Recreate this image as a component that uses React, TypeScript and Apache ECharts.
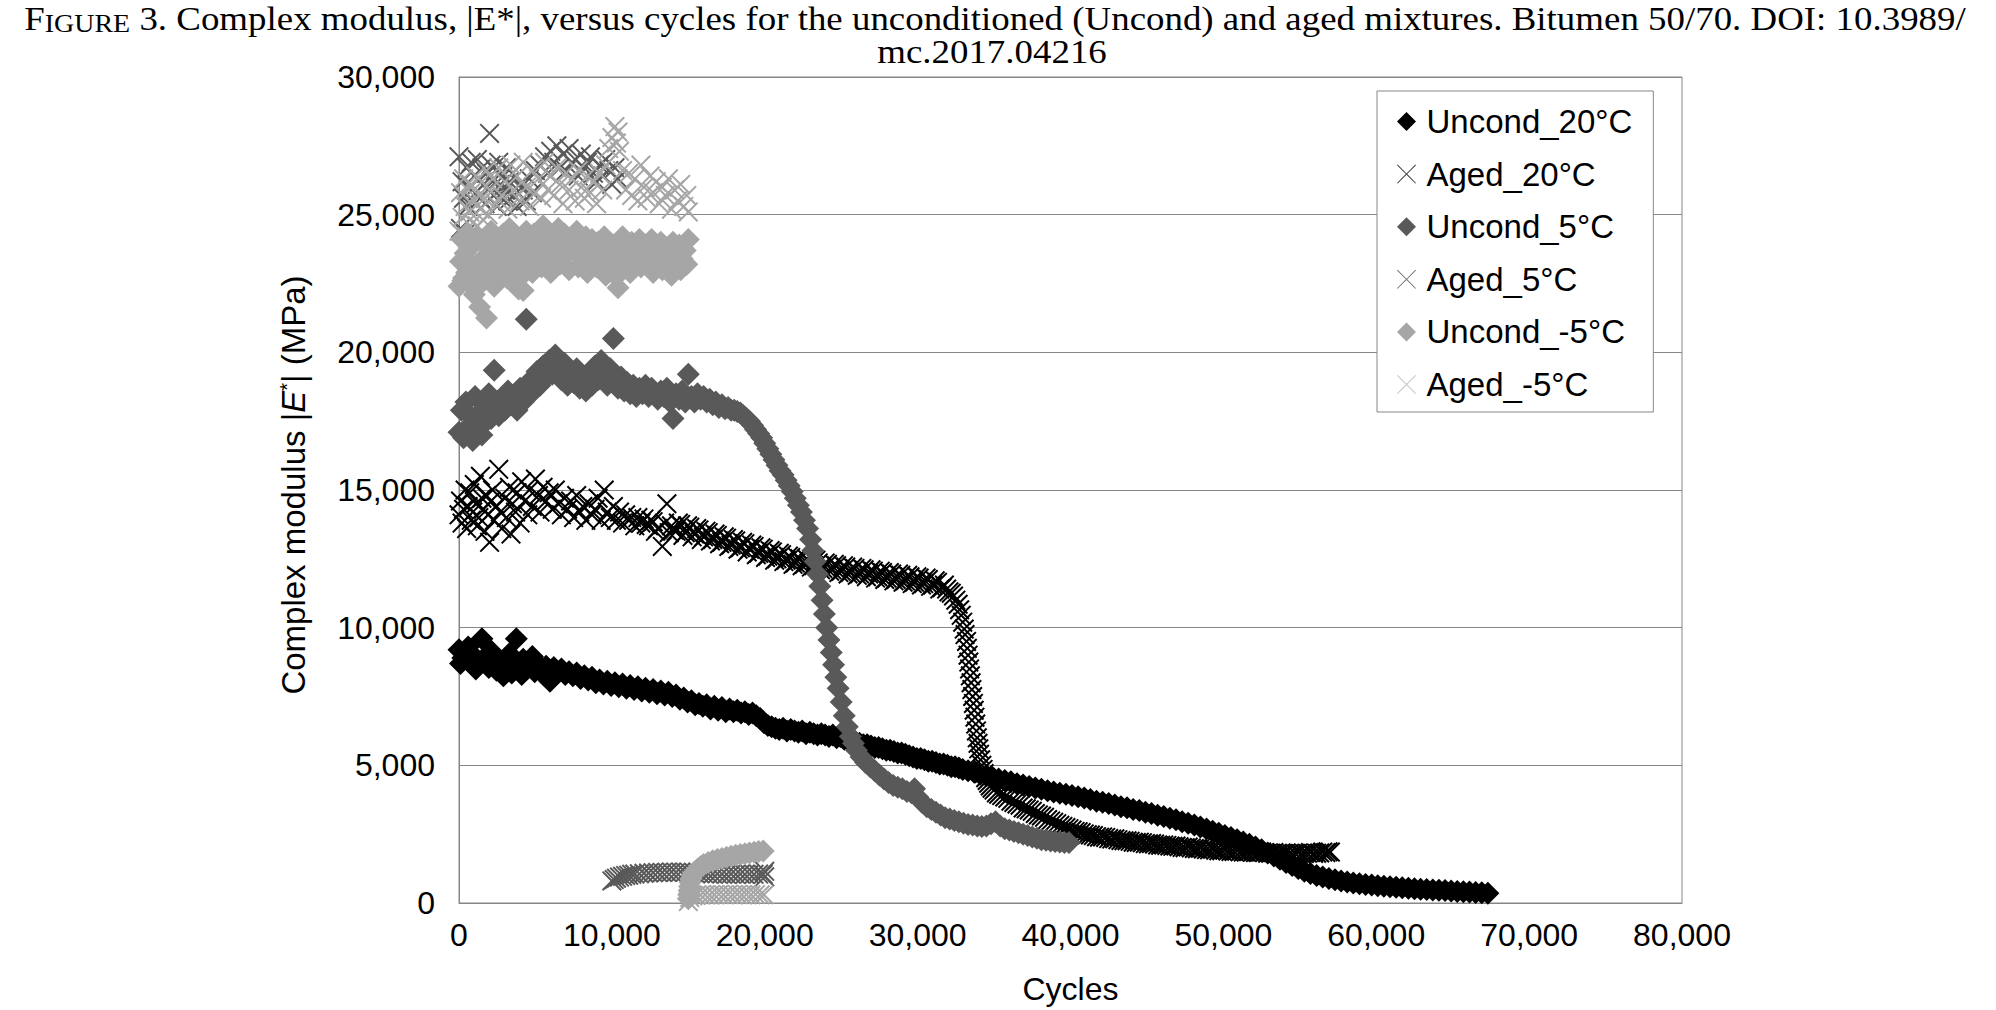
import React, { useEffect, useRef } from 'react';
import * as echarts from 'echarts';

const SANS = '"Liberation Sans", Arial, Helvetica, sans-serif';
const SERIF = '"Liberation Serif", "Times New Roman", serif';

const SERIES_NAMES = ['Uncond_20°C', 'Aged_20°C', 'Uncond_5°C', 'Aged_5°C', 'Uncond_-5°C', 'Aged_-5°C'];
const SERIES_COLORS = ['#000000', '#000000', '#595959', '#595959', '#a6a6a6', '#a6a6a6'];
const LEGEND_COLORS = ['#000000', '#3a3a3a', '#595959', '#707070', '#a6a6a6', '#c4c4c4'];

const X_TICKS = [0, 10000, 20000, 30000, 40000, 50000, 60000, 70000, 80000];
const Y_TICKS = [0, 5000, 10000, 15000, 20000, 25000, 30000];

const TITLE_REST = ' 3. Complex modulus, |E*|, versus cycles for the unconditioned (Uncond) and aged mixtures. Bitumen 50/70. DOI: 10.3989/';
const TITLE_LINE2 = 'mc.2017.04216';
const X_NAME = 'Cycles';

// Uncond_20°C (black diamonds)
const uncond20: number[][] = [
  [0, 9200], [100, 8700], [250, 8900], [500, 9100], [600, 9300], [750, 8750], [1000, 8950], [1100, 8500], [1250, 8650],
  [1500, 9600], [1700, 8850], [1950, 8550], [2100, 9150], [2200, 8800], [2450, 8450], [2700, 8700], [2900, 8250],
  [2950, 8500], [3200, 8750], [3300, 9050], [3450, 8350], [3750, 9600], [3950, 8650], [4100, 8300], [4200, 8850],
  [4450, 8500], [4700, 8700], [4800, 8950], [4950, 8400], [5200, 8650], [5450, 8450], [5600, 8250], [5700, 8600],
  [5950, 8050], [6200, 8550], [6450, 8350], [6700, 8500], [6950, 8300], [7200, 8400], [7450, 8250], [7700, 8350],
  [7950, 8150], [8200, 8250], [8450, 8100], [8700, 8200], [8950, 8000], [9200, 8100], [9450, 7950], [9700, 8050],
  [9950, 7900], [10200, 8000], [10450, 7850], [10700, 7950], [10950, 7800], [11200, 7900], [11450, 7750], [11700, 7850],
  [11950, 7700], [12200, 7800], [12450, 7650], [12700, 7750], [12950, 7600], [13200, 7700], [13450, 7550], [13700, 7650],
  [13950, 7500], [14200, 7550], [14450, 7400], [14700, 7450], [14950, 7300], [15200, 7350], [15450, 7200], [15700, 7250],
  [15950, 7150], [16200, 7200], [16450, 7050], [16700, 7150], [16950, 7000], [17200, 7100], [17450, 6950], [17700, 7050],
  [17950, 6950], [18200, 7000], [18450, 6900], [18700, 6950], [18950, 6850], [19200, 6900], [19450, 6800], [19700, 6700],
  [19950, 6550], [20200, 6450], [20450, 6400], [20700, 6350], [20950, 6300], [21200, 6350], [21450, 6250], [21700, 6300],
  [21950, 6250], [22200, 6200], [22450, 6250], [22700, 6150], [22950, 6200], [23200, 6150], [23450, 6100], [23700, 6150],
  [23950, 6100], [24200, 6050], [24450, 6100], [24700, 6000], [24950, 6050], [25200, 5950], [25450, 5950], [25700, 5850],
  [25950, 5850], [26200, 5800], [26450, 5750], [26700, 5750], [26950, 5700], [27200, 5650], [27450, 5650], [27700, 5600],
  [27950, 5550], [28200, 5550], [28450, 5500], [28700, 5450], [28950, 5450], [29200, 5400], [29450, 5350], [29700, 5300],
  [29950, 5250], [30200, 5250], [30450, 5200], [30700, 5150], [30950, 5150], [31200, 5100], [31450, 5050], [31700, 5050],
  [31950, 5000], [32200, 4950], [32450, 4950], [32700, 4900], [32950, 4850], [33300, 4800], [33700, 4750], [34100, 4680],
  [34500, 4620], [34900, 4560], [35300, 4500], [35700, 4450], [36100, 4400], [36500, 4330], [36900, 4290], [37300, 4230],
  [37700, 4180], [38100, 4130], [38500, 4080], [38900, 4030], [39300, 3990], [39700, 3950], [40100, 3900], [40500, 3860],
  [40900, 3810], [41300, 3760], [41700, 3700], [42100, 3660], [42500, 3610], [42900, 3560], [43300, 3500], [43700, 3460],
  [44100, 3400], [44500, 3360], [44900, 3300], [45300, 3250], [45700, 3190], [46100, 3140], [46500, 3080], [46900, 3020],
  [47300, 2950], [47700, 2900], [48100, 2830], [48500, 2760], [48900, 2690], [49300, 2610], [49700, 2530], [50100, 2450],
  [50500, 2380], [50900, 2300], [51300, 2220], [51700, 2130], [52100, 2030], [52500, 1930], [52900, 1820], [53300, 1710],
  [53700, 1590], [54100, 1470], [54500, 1360], [54900, 1250], [55300, 1150], [55700, 1070], [56100, 1000], [56500, 940],
  [56900, 890], [57300, 840], [57700, 800], [58100, 760], [58500, 730], [58900, 700], [59300, 670], [59700, 650],
  [60100, 630], [60500, 610], [60900, 590], [61300, 570], [61700, 550], [62100, 540], [62500, 520], [62900, 500],
  [63300, 490], [63700, 470], [64100, 460], [64500, 450], [64900, 440], [65300, 420], [65700, 410], [66100, 400],
  [66500, 380], [66900, 370], [67300, 350],
];

// Aged_20°C (black crosses)
const aged20: number[][] = [
  [0, 14100], [100, 14600], [200, 13800], [300, 14300], [400, 15000], [500, 13600], [600, 14400], [700, 14900],
  [800, 13900], [900, 14200], [1000, 15200], [1100, 14500], [1200, 13700], [1300, 14000], [1400, 15500], [1500, 14700],
  [1600, 14300], [1700, 13500], [1800, 14800], [1900, 14100], [2000, 13100], [2100, 14600], [2200, 15000], [2300, 13900],
  [2400, 14400], [2600, 15750], [2700, 14200], [2800, 13600], [3000, 14700], [3100, 14000], [3300, 15100], [3400, 13400],
  [3500, 14500], [3700, 14200], [3800, 14900], [4000, 13800], [4100, 15300], [4300, 14600], [4500, 14100], [4600, 15000],
  [4800, 14400], [5000, 15400], [5200, 14800], [5300, 14200], [5500, 15100], [5700, 14600], [5900, 14900], [6100, 14300],
  [6300, 15000], [6500, 14500], [6700, 14100], [6900, 14700], [7100, 14300], [7300, 14600], [7500, 14000], [7700, 14800],
  [7900, 14200], [8100, 14400], [8300, 13900], [8500, 14500], [8700, 14100], [8900, 14300], [9100, 14700], [9300, 13900],
  [9500, 15000], [9700, 14200], [9900, 14000], [10100, 14400], [10300, 13900], [10500, 14200], [10700, 13800], [10900, 14100],
  [11100, 13900], [11300, 14000], [11500, 13700], [11700, 14000], [11900, 13800],
  [12100, 13950], [12250, 13750], [12400, 13700], [12550, 13900], [12700, 13850], [12850, 13500], [13000, 13600], [13300, 12950],
  [13450, 13800], [13600, 14500], [13750, 13450], [13900, 13700], [14050, 13550], [14200, 13500], [14350, 13800], [14500, 13750],
  [14650, 13350], [14800, 13450], [14950, 13700], [15100, 13650], [15250, 13300], [15400, 13400], [15550, 13600], [15700, 13550],
  [15850, 13200], [16000, 13300], [16150, 13500], [16300, 13450], [16450, 13150], [16600, 13200], [16750, 13400], [16900, 13350],
  [17050, 13050], [17200, 13100], [17350, 13300], [17500, 13250], [17650, 12950], [17800, 13000], [17950, 13200], [18100, 13150],
  [18250, 12850], [18400, 12900], [18550, 13100], [18700, 13050], [18850, 12750], [19000, 12850], [19150, 13000], [19300, 12950],
  [19450, 12650], [19600, 12700], [19750, 12900], [19900, 12850], [20050, 12550], [20200, 12600], [20350, 12800], [20500, 12750],
  [20650, 12450], [20800, 12500], [20950, 12700], [21100, 12650], [21250, 12400], [21400, 12450], [21550, 12600], [21700, 12550],
  [21850, 12300], [22000, 12350], [22150, 12550], [22300, 12500], [22450, 12250], [22600, 12300], [22750, 12500], [22900, 12400],
  [23050, 12200], [23200, 12250], [23350, 12450], [23500, 12350], [23650, 12100], [23800, 12150], [23950, 12350], [24100, 12300],
  [24250, 12050], [24400, 12100], [24550, 12300], [24700, 12250], [24850, 12000], [25000, 12050], [25150, 12250], [25300, 12200],
  [25450, 11950], [25600, 12000], [25750, 12200], [25900, 12150], [26050, 11900], [26200, 11950], [26350, 12150], [26500, 12100],
  [26650, 11850], [26800, 11950], [26950, 12100], [27100, 12050], [27250, 11800], [27400, 11850], [27550, 12050], [27700, 12000],
  [27850, 11750], [28000, 11800], [28150, 12000], [28300, 11950], [28450, 11700], [28600, 11750], [28750, 11950], [28900, 11900],
  [29050, 11650], [29200, 11700], [29350, 11900], [29500, 11850], [29650, 11600], [29800, 11650], [29950, 11850], [30100, 11800],
  [30250, 11550], [30400, 11600], [30550, 11800], [30700, 11750], [30850, 11500], [31000, 11550], [31150, 11700], [31300, 11650],
  [31450, 11400], [31600, 11450], [31750, 11550], [31900, 11400], [32050, 11300],
  [32200, 11250], [32350, 11150], [32500, 11000], [32650, 10850], [32750, 10650], [32850, 10450], [32950, 10200], [33050, 9950],
  [33100, 9750], [33200, 9500], [33250, 9250], [33300, 9000], [33350, 8750], [33400, 8500], [33450, 8250], [33500, 8000],
  [33550, 7750], [33600, 7500], [33650, 7250], [33700, 7000], [33750, 6750], [33800, 6500], [33850, 6250], [33900, 6000],
  [33950, 5800], [34000, 5600], [34050, 5400], [34120, 5200], [34200, 5000], [34280, 4850], [34350, 4700], [34450, 4550],
  [34550, 4450], [34650, 4350], [34750, 4250], [34870, 4170], [35000, 4100], [35150, 4000], [35300, 3950],
  [35500, 3900], [35700, 3850], [35900, 3800], [36100, 3700], [36300, 3650], [36500, 3600], [36700, 3550], [36900, 3450],
  [37100, 3420], [37300, 3380], [37500, 3330], [37700, 3250], [37900, 3200], [38100, 3160], [38300, 3110], [38500, 3030],
  [38700, 2980], [38900, 2930], [39100, 2880], [39300, 2820], [39500, 2780], [39700, 2740], [39900, 2700], [40100, 2650],
  [40300, 2600], [40500, 2590], [40700, 2560], [40900, 2510], [41100, 2480], [41300, 2470], [41500, 2450], [41700, 2410],
  [41900, 2390], [42100, 2400], [42300, 2380], [42500, 2340], [42700, 2320], [42900, 2330], [43100, 2300], [43300, 2270],
  [43500, 2260], [43700, 2260], [43900, 2240], [44100, 2210], [44300, 2200], [44500, 2210], [44700, 2190], [44900, 2160],
  [45100, 2150], [45300, 2160], [45500, 2140], [45700, 2110], [45900, 2100], [46100, 2110], [46300, 2090], [46500, 2070],
  [46700, 2060], [46900, 2070], [47100, 2040], [47300, 2020], [47500, 2010], [47700, 2030], [47900, 2000], [48100, 1980],
  [48300, 1970], [48500, 1990], [48700, 1960], [48900, 1940], [49100, 1930], [49300, 1950], [49500, 1920], [49700, 1900],
  [49900, 1900], [50100, 1920], [50300, 1890], [50500, 1870], [50700, 1870], [50900, 1890], [51100, 1860], [51300, 1850],
  [51500, 1850], [51700, 1870], [51900, 1840], [52100, 1830], [52300, 1830], [52500, 1850], [52700, 1830], [52900, 1810],
  [53100, 1810], [53300, 1830], [53500, 1800], [53700, 1790], [53900, 1800], [54100, 1820], [54300, 1790], [54500, 1780],
  [54700, 1800], [54900, 1820], [55100, 1790], [55300, 1800], [55500, 1810], [55700, 1830], [55900, 1800], [56100, 1810],
  [56300, 1820], [56500, 1850], [56700, 1830], [56850, 1860], [57000, 1850],
];

// Uncond_5°C (dark grey diamonds)
const uncond5: number[][] = [
  [0, 17100], [150, 17900], [300, 16900], [450, 18200], [600, 17300], [750, 17700], [900, 16800], [1050, 18400],
  [1200, 17400], [1350, 17800], [1500, 17000], [1650, 18100], [1800, 17500], [1950, 18500], [2100, 17600], [2300, 19350],
  [2450, 18000], [2600, 17700], [2800, 18300], [3000, 17900], [3200, 18600], [3400, 18100], [3600, 18400], [3800, 17900],
  [4000, 18700], [4200, 18200], [4400, 21200], [4550, 18500], [4700, 19000], [4900, 18600], [5100, 19300], [5300, 18800],
  [5500, 19500], [5700, 19100], [5900, 19700], [6100, 19200], [6300, 19900], [6500, 19400], [6700, 19000], [6900, 19600],
  [7100, 18800], [7300, 19300], [7500, 18900], [7700, 19400], [7900, 18700], [8100, 19100], [8300, 18600], [8500, 19200],
  [8700, 18800], [8900, 19500], [9100, 19000], [9300, 19700], [9500, 19200], [9700, 18800], [9900, 19400], [10100, 20500],
  [10200, 19000], [10400, 18700], [10600, 19100], [10800, 18600], [11000, 18900], [11200, 18500], [11400, 18800], [11600, 18400],
  [11800, 18700], [12000, 18500], [12200, 18800], [12400, 18400], [12600, 18700], [12800, 18500], [13000, 18300], [13200, 18600],
  [13400, 18400], [13600, 18700], [13800, 18200], [14000, 17600], [14200, 18500], [14400, 18300], [14600, 18600], [14800, 18200],
  [15000, 19200], [15200, 18400], [15400, 18200], [15600, 18500], [15800, 18300], [16000, 18400], [16200, 18200], [16400, 18300],
  [16600, 18100], [16800, 18200], [17000, 18000], [17200, 18100], [17400, 17950], [17600, 18000], [17800, 17900], [18000, 17900],
  [18200, 17850], [18400, 17800], [18600, 17700], [18800, 17600], [19000, 17500], [19200, 17350], [19400, 17200], [19600, 17050],
  [19800, 16900], [20000, 16700], [20200, 16500], [20400, 16300], [20600, 16100], [20800, 15900], [21000, 15700], [21200, 15550],
  [21400, 15350], [21600, 15150], [21800, 14950], [22000, 14700], [22200, 14450], [22400, 14200], [22600, 13900], [22800, 13600],
  [23000, 13200], [23150, 12800], [23300, 12400], [23450, 11950], [23600, 11500], [23750, 11000], [23900, 10500], [24050, 10000],
  [24200, 9550], [24350, 9100], [24500, 8650], [24650, 8200], [24800, 7800], [25000, 7300], [25200, 6800], [25400, 6400],
  [25600, 6050], [25800, 5800], [26000, 5550], [26300, 5300], [26600, 5100], [26900, 4950], [27200, 4800], [27500, 4650],
  [27800, 4500], [28100, 4380], [28400, 4270], [28700, 4200], [29000, 4150], [29300, 4050], [29600, 4000], [29800, 4150],
  [30000, 3850], [30300, 3650], [30600, 3500], [30900, 3400], [31200, 3300], [31500, 3200], [31800, 3100], [32100, 3050],
  [32400, 3000], [32700, 2950], [33000, 2900], [33300, 2850], [33600, 2830], [33900, 2800], [34200, 2780], [34500, 2800],
  [34800, 2880], [35100, 2950], [35400, 2800], [35700, 2700], [36000, 2650], [36300, 2600], [36600, 2550], [36900, 2500],
  [37200, 2450], [37500, 2400], [37800, 2350], [38100, 2300], [38400, 2280], [38700, 2250], [39000, 2230], [39300, 2220],
  [39600, 2200], [39900, 2200],
];

// Aged_5°C (dark grey crosses)
const aged5: number[][] = [
  [0, 27100], [100, 24500], [200, 26200], [300, 25600], [400, 24300], [500, 26700], [600, 25300], [700, 26000],
  [800, 26900], [900, 25500], [1000, 26400], [1100, 25800], [1200, 27000], [1300, 26300], [1400, 25600], [1500, 26700],
  [1600, 26100], [1700, 25400], [1800, 26500], [1900, 25900], [2000, 27950], [2100, 26800], [2200, 26200], [2300, 25700],
  [2400, 26600], [2500, 25300], [2600, 26900], [2700, 26100], [2800, 25600], [2900, 26400], [3000, 25900], [3100, 26700],
  [3200, 25500], [3300, 26200], [3400, 25800], [3500, 26500], [3600, 25700], [3800, 25300], [4000, 26100], [4200, 25900],
  [4400, 25500], [4600, 26300], [4800, 25800], [5000, 26600], [5300, 26800], [5600, 27100], [5800, 26500], [6000, 27300],
  [6200, 26900], [6400, 27500], [6600, 26700], [6800, 27200], [7000, 26600], [7200, 27400], [7400, 26900], [7600, 27000],
  [7800, 26400], [8000, 27200], [8200, 26700], [8400, 26900], [8600, 27100], [8800, 26500], [9000, 26200], [9200, 26800],
  [9400, 26400], [9600, 27000], [9800, 26600], [10000, 26100], [10200, 26700], [10400, 26300],
  [10000, 800], [10150, 850], [10300, 900], [10500, 940], [10700, 970], [10900, 1000], [11100, 1010], [11300, 1040],
  [11500, 1050], [11800, 1060], [12100, 1080], [12400, 1090], [12700, 1100], [13000, 1110], [13300, 1110], [13600, 1120],
  [13900, 1130], [14200, 1120], [14500, 1130], [14800, 1120], [15100, 1100], [15400, 1090], [15700, 1080], [16000, 1070],
  [16300, 1060], [16600, 1050], [16900, 1060], [17200, 1050], [17500, 1040], [17800, 1050], [18100, 1040], [18400, 1050],
  [18700, 1040], [19000, 1050], [19300, 1040], [19600, 1050], [19900, 1040], [20000, 1150], [20000, 950],
];

// Uncond_-5°C (light grey diamonds)
const uncondM5: number[][] = [
  [0, 22400], [100, 23300], [200, 24100], [250, 22600], [300, 22700], [400, 23600], [500, 22900], [600, 24300], [700, 22500],
  [750, 23000], [800, 23200], [900, 23900], [1000, 22100], [1100, 23000], [1200, 24200], [1250, 22800], [1350, 21650],
  [1450, 22500], [1550, 23400], [1650, 23900], [1800, 21250], [1900, 22700], [2000, 23600], [2050, 22600], [2100, 24400],
  [2200, 23100], [2300, 22400], [2400, 23700], [2500, 23300], [2600, 24100], [2650, 22900], [2700, 22800], [2800, 23500],
  [2900, 24300], [3000, 23000], [3100, 23800], [3150, 22700], [3200, 23400], [3300, 24500], [3400, 23200], [3500, 23900],
  [3600, 22700], [3650, 23100], [3700, 24200], [3800, 23500], [3900, 22300], [4000, 24000], [4100, 23300], [4150, 22800],
  [4200, 22250], [4300, 23700], [4400, 24400], [4500, 23100], [4700, 23800], [4800, 22900], [4900, 24300], [5100, 23400],
  [5300, 24000], [5400, 23100], [5500, 24600], [5700, 23700], [5900, 24200], [6000, 22900], [6100, 23500], [6300, 24100],
  [6500, 24500], [6600, 23200], [6700, 23800], [6900, 24300], [7100, 23600], [7200, 23000], [7300, 24100], [7500, 23700],
  [7700, 24400], [7800, 23100], [7900, 23900], [8100, 23500], [8300, 24200], [8400, 22900], [8500, 23800], [8700, 24100],
  [8900, 23300], [9000, 23100], [9100, 24000], [9300, 23500], [9500, 24200], [9600, 22800], [9700, 23700], [9900, 23200],
  [10100, 23900], [10300, 22750], [10400, 22350], [10500, 23600], [10600, 23000], [10700, 24200], [10900, 23800], [11100, 23400],
  [11200, 22900], [11300, 24000], [11500, 23600], [11800, 24100], [11900, 23100], [12000, 23300], [12200, 23900], [12400, 23500],
  [12600, 24100], [12700, 22900], [12800, 23200], [13000, 23700], [13200, 24000], [13300, 23000], [13400, 23400], [13600, 23800],
  [13800, 23300], [13900, 22800], [14000, 24000], [14200, 23600], [14400, 23900], [14500, 23000], [14600, 23400], [14800, 23700],
  [14900, 23200], [15000, 24100],
  [15000, 150], [15020, 300], [15050, 450], [15080, 600], [15120, 750], [15170, 880], [15250, 1000], [15400, 1120],
  [15600, 1230], [15800, 1320], [16000, 1400], [16300, 1470], [16600, 1530], [16900, 1580], [17200, 1620], [17500, 1660],
  [17800, 1700], [18100, 1730], [18400, 1760], [18700, 1790], [19000, 1820], [19300, 1840], [19600, 1870], [19900, 1890],
];

// Aged_-5°C (light grey crosses)
const agedM5: number[][] = [
  [0, 24400], [100, 25800], [200, 24900], [300, 26300], [400, 25300], [500, 24200], [600, 25900], [700, 25100],
  [800, 26100], [900, 24700], [1000, 25500], [1100, 26400], [1200, 24600], [1300, 25700], [1400, 25200], [1500, 26200],
  [1600, 24800], [1700, 25600], [1800, 26600], [1900, 25000], [2000, 25900], [2200, 26300], [2400, 25400], [2600, 26700],
  [2800, 25700], [3000, 26200], [3200, 25200], [3400, 26800], [3600, 25900], [3800, 26400], [4000, 25500], [4200, 26900],
  [4400, 26000], [4600, 25300], [4800, 26600], [5000, 25800], [5200, 26300], [5400, 25600], [5600, 26900], [5800, 25900],
  [6000, 26400], [6200, 25700], [6400, 26700], [6600, 26100], [6800, 25400], [7000, 26500], [7200, 25900], [7400, 26300],
  [7600, 25500], [7800, 26600], [8000, 26000], [8200, 25600], [8400, 26400], [8600, 25800], [8800, 26200], [9000, 25400],
  [9200, 26500], [9400, 25900], [9600, 26800], [9800, 27400], [10000, 27800], [10200, 28200], [10300, 27600], [10400, 28000],
  [10500, 27300], [10700, 26600], [10900, 25900], [11100, 26500], [11300, 25700], [11500, 26300], [11700, 25500], [11900, 26800],
  [12100, 26000], [12300, 25600], [12500, 26400], [12700, 25800], [12900, 26200], [13100, 25400], [13300, 26000], [13500, 25700],
  [13700, 26300], [13900, 25200], [14100, 25900], [14300, 25500], [14500, 26100], [14700, 25300], [14900, 25700], [15000, 25100],
  [15000, 50], [15100, 200], [15300, 260], [15500, 280], [15800, 290], [16100, 300], [16400, 290], [16700, 300],
  [17000, 310], [17300, 300], [17600, 310], [17900, 300], [18200, 310], [18500, 300], [18800, 310], [19100, 300],
  [19400, 310], [19700, 300], [19950, 300],
];

const SERIES_DATA = [uncond20, aged20, uncond5, aged5, uncondM5, agedM5];

const DIAMOND_ICON = 'path://M10,0L20,10L10,20L0,10Z';
const CROSS = 'path://M0,1.4L1.4,0L10,8.6L18.6,0L20,1.4L11.4,10L20,18.6L18.6,20L10,11.4L1.4,20L0,18.6L8.6,10Z';
const CROSS_THIN = 'path://M0,0.7L0.7,0L10,9.3L19.3,0L20,0.7L10.7,10L20,19.3L19.3,20L10,10.7L0.7,20L0,19.3L9.3,10Z';

const TITLE_SIZE = 33;
const TITLE_SC_SIZE = 25;

function fmt(v: number): string {
  return String(v).replace(/\B(?=(\d{3})+(?!\d))/g, ',');
}

function titleScale(): number {
  try {
    const ctx = document.createElement('canvas').getContext('2d');
    if (!ctx) return 1.1;
    ctx.font = `${TITLE_SIZE}px ${SERIF}`;
    const a = ctx.measureText('F').width + ctx.measureText(TITLE_REST).width;
    ctx.font = `${TITLE_SC_SIZE}px ${SERIF}`;
    const b = ctx.measureText('IGURE').width;
    const s = 1941 / (a + b);
    return isFinite(s) && s > 0.5 && s < 2 ? s : 1.1;
  } catch (e) {
    return 1.1;
  }
}

export default function App() {
  const ref = useRef<HTMLDivElement>(null);

  useEffect(() => {
    if (!ref.current) return;
    const chart = echarts.init(ref.current, null, { renderer: 'svg' });
    const s = titleScale();
    const isCross = (i: number) => i % 2 === 1;

    const option: any = {
      animation: false,
      backgroundColor: '#ffffff',
      grid: {
        left: 459,
        right: 314,
        top: 77,
        bottom: 107,
        show: true,
        borderColor: '#878787',
        borderWidth: 1,
        containLabel: false,
        outerBoundsMode: 'none',
      },
      xAxis: {
        type: 'value',
        min: X_TICKS[0],
        max: X_TICKS[X_TICKS.length - 1],
        interval: X_TICKS[1] - X_TICKS[0],
        name: X_NAME,
        nameLocation: 'middle',
        nameGap: 70,
        nameTextStyle: { fontFamily: SANS, fontSize: 32, color: '#000' },
        axisLine: { show: true, lineStyle: { color: '#878787', width: 1 } },
        axisTick: { show: false },
        splitLine: { show: false },
        axisLabel: { fontFamily: SANS, fontSize: 32, color: '#000', margin: 16, formatter: fmt },
      },
      yAxis: {
        type: 'value',
        min: Y_TICKS[0],
        max: Y_TICKS[Y_TICKS.length - 1],
        interval: Y_TICKS[1] - Y_TICKS[0],
        axisLine: { show: true, lineStyle: { color: '#878787', width: 1 } },
        axisTick: { show: false },
        splitLine: { show: true, lineStyle: { color: '#878787', width: 1 } },
        axisLabel: { fontFamily: SANS, fontSize: 32, color: '#000', margin: 24, formatter: fmt },
      },
      legend: {
        orient: 'vertical',
        left: 1377,
        top: 91,
        padding: [14, 21, 11, 20],
        itemGap: 19.6,
        itemWidth: 30,
        itemHeight: 19,
        backgroundColor: '#ffffff',
        borderColor: '#878787',
        borderWidth: 1,
        borderRadius: 0,
        selectedMode: false,
        symbolKeepAspect: true,
        textStyle: { fontFamily: SANS, fontSize: 33, color: '#000' },
        data: SERIES_NAMES.map((name, i) => ({
          name,
          icon: isCross(i) ? CROSS_THIN : DIAMOND_ICON,
          itemStyle: { color: LEGEND_COLORS[i] },
        })),
      },
      graphic: [
        {
          type: 'text',
          x: 995,
          y: 19,
          scaleX: s,
          silent: true,
          style: {
            text: '{F|F}{sc|IGURE}{t|' + TITLE_REST + '}',
            fontFamily: SERIF,
            fontSize: TITLE_SIZE,
            lineHeight: 34,
            fill: '#000',
            align: 'center',
            verticalAlign: 'middle',
            rich: {
              F: { fontFamily: SERIF, fontSize: TITLE_SIZE, lineHeight: 34, fill: '#000', verticalAlign: 'bottom' },
              sc: { fontFamily: SERIF, fontSize: TITLE_SC_SIZE, lineHeight: 34, fill: '#000', verticalAlign: 'bottom' },
              t: { fontFamily: SERIF, fontSize: TITLE_SIZE, lineHeight: 34, fill: '#000', verticalAlign: 'bottom' },
            },
          },
        },
        {
          type: 'text',
          x: 992,
          y: 52,
          scaleX: s,
          silent: true,
          style: {
            text: TITLE_LINE2,
            fontFamily: SERIF,
            fontSize: TITLE_SIZE,
            lineHeight: 34,
            fill: '#000',
            align: 'center',
            verticalAlign: 'middle',
          },
        },
        {
          type: 'text',
          x: 293,
          y: 485,
          rotation: Math.PI / 2,
          silent: true,
          style: {
            text: 'Complex modulus |{i|E}{s|*}| (MPa)',
            fontFamily: SANS,
            fontSize: 33,
            fill: '#000',
            align: 'center',
            verticalAlign: 'middle',
            rich: {
              i: { fontFamily: SANS, fontSize: 33, fontStyle: 'italic', fill: '#000' },
              s: { fontFamily: SANS, fontSize: 20, fill: '#000', verticalAlign: 'top' },
            },
          },
        },
      ],
      series: SERIES_NAMES.map((name, i) => ({
        type: 'scatter',
        name,
        data: SERIES_DATA[i],
        symbol: isCross(i) ? CROSS : 'diamond',
        symbolSize: isCross(i) ? 20 : 23,
        clip: false,
        itemStyle: { color: SERIES_COLORS[i], opacity: 1 },
        emphasis: { disabled: true },
        silent: true,
      })),
    };

    chart.setOption(option);
    return () => {
      chart.dispose();
    };
  }, []);

  return (
    <div
      ref={ref}
      style={{ position: 'fixed', left: 0, top: 0, width: '1996px', height: '1010px', background: '#fff' }}
    />
  );
}
